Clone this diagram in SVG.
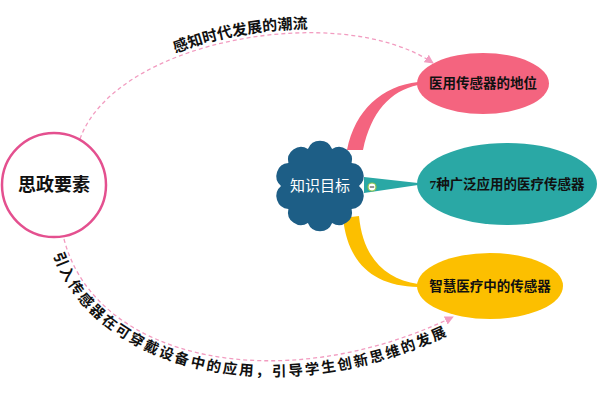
<svg xmlns="http://www.w3.org/2000/svg" width="605" height="406" viewBox="0 0 605 406">
<style>
.lbl{font-family:"Liberation Serif","Noto Sans CJK SC",serif;font-weight:bold;fill:#111;text-anchor:middle;dominant-baseline:central;}
.dash{fill:none;stroke:#f29cc0;stroke-width:1.3;stroke-dasharray:4 3;}
.elab{font-family:"Liberation Serif","Noto Sans CJK SC",serif;font-weight:bold;fill:#111;}
</style>
<defs>
<marker id="arr" viewBox="0 0 10 10" refX="9" refY="5" markerWidth="9" markerHeight="9" markerUnits="userSpaceOnUse" orient="auto">
<path d="M0,0 L10,5 L0,10 Z" fill="#f29cc0"/>
</marker>
<path id="topText" d="M77,136 C 112,36 340,-4 435,59"/>
<path id="botText" d="M50,243 C 82,370 280,422 460,329"/>
</defs>
<rect width="605" height="406" fill="#fff"/>
<g id="connectors">
<path class="dash" d="M80,139 C 115,40 340,0 433,63" marker-end="url(#arr)"/>
<path class="dash" d="M64,239 C 95,360 280,400 453,317" marker-end="url(#arr)"/>
<text class="elab" font-size="15"><textPath href="#topText" startOffset="50%" text-anchor="middle">感知时代发展的潮流</textPath></text>
<text class="elab" font-size="14.5"><textPath href="#botText" startOffset="12" textLength="448" lengthAdjust="spacing">引入传感器在可穿戴设备中的应用，引导学生创新思维的发展</textPath></text>
<path d="M347,150 C 355,110 382,86 418,82 L418,85 C 390,91 371,112 363,150 Z" fill="#f4647f"/>
<polygon points="364,177 418,183 418,185 364,193" fill="#2aa8a5"/>
<path d="M343,218 C 348,265 375,286 418,287 L418,284 C 385,279 363,258 359,216 Z" fill="#fcbf00"/>
</g>
<g id="node-sizheng">
<circle cx="54" cy="185" r="52" fill="#fff" stroke="#e4508f" stroke-width="2.5"/>
<text class="lbl" x="54" y="185" font-size="18">思政要素</text>
</g>
<g id="node-zhishi">
<path d="M332.1,148.9 A13,13 0 0 1 351.6,163.1 A13,13 0 0 1 359,186 A13,13 0 0 1 351.6,208.9 A13,13 0 0 1 332.1,223.1 A13,13 0 0 1 307.9,223.1 A13,13 0 0 1 288.4,208.9 A13,13 0 0 1 281,186 A13,13 0 0 1 288.4,163.1 A13,13 0 0 1 307.9,148.9 A13,13 0 0 1 332.1,148.9 Z" fill="#1d5e86"/>
<text class="lbl" x="320" y="186" font-size="15" style="fill:#fff;font-weight:normal">知识目标</text>
<circle cx="372" cy="187" r="4" fill="#fff" stroke="#8bc34a" stroke-width="1.2"/>
<line x1="369.8" y1="187" x2="374.2" y2="187" stroke="#333" stroke-width="1"/>
</g>
<g id="node-diwei">
<ellipse cx="483" cy="83.5" rx="66" ry="30.5" fill="#f4647f"/>
<text class="lbl" x="483" y="83" font-size="13.5">医用传感器的地位</text>
</g>
<g id="node-qizhong">
<ellipse cx="507" cy="184" rx="90" ry="41" fill="#2aa8a5"/>
<text class="lbl" x="507" y="184" font-size="13.5">7种广泛应用的医疗传感器</text>
</g>
<g id="node-zhihui">
<ellipse cx="490" cy="286" rx="73" ry="33" fill="#fcbf00"/>
<text class="lbl" x="490" y="286" font-size="13.5">智慧医疗中的传感器</text>
</g>
</svg>
